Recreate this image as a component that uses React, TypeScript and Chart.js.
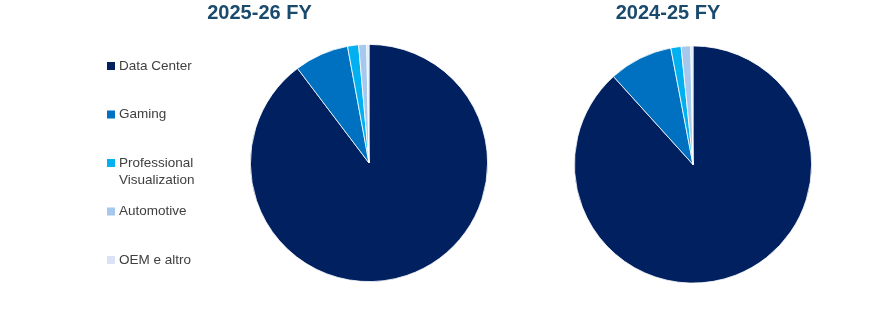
import React, { useEffect, useRef } from "react";
import { Chart, registerables } from "chart.js";

Chart.register(...registerables);

const categories: string[][] = [
  ["Data Center"],
  ["Gaming"],
  ["Professional", "Visualization"],
  ["Automotive"],
  ["OEM e altro"],
];
const fy2026Values = [89.7, 7.4, 1.5, 1.1, 0.3];
const fy2025Values = [88.3, 8.7, 1.4, 1.3, 0.3];
const titles = ["2025-26 FY", "2024-25 FY"];
const colors = ["#002060", "#0070C0", "#00B0F0", "#A6C8EC", "#DAE3F3"];

const TITLE_COLOR = "#1A4A6C";
const TITLE_FONT = "bold 20px 'Liberation Sans', Arial, sans-serif";
const LEGEND_COLOR = "#404040";
const LEGEND_FONT = "13.5px 'Liberation Sans', Arial, sans-serif";

const legendPlugin = {
  id: "sideLegend",
  afterDraw(chart: any) {
    const ctx = chart.ctx;
    const labels = chart.data.labels as string[][];
    const bg = chart.data.datasets[0].backgroundColor as string[];
    const startY = 66;
    const step = 48.5;
    const lineH = 17.5;
    ctx.save();
    ctx.font = LEGEND_FONT;
    ctx.textBaseline = "middle";
    ctx.textAlign = "left";
    labels.forEach((lines, i) => {
      const y = startY + i * step;
      ctx.fillStyle = bg[i];
      ctx.fillRect(107, y - 4, 8, 8);
      ctx.fillStyle = LEGEND_COLOR;
      lines.forEach((t, j) => ctx.fillText(t, 119, y + j * lineH));
    });
    ctx.restore();
  },
};

const titlePlugin = {
  id: "topTitle",
  afterDraw(chart: any, _args: any, opts: any) {
    const ctx = chart.ctx;
    ctx.save();
    ctx.font = TITLE_FONT;
    ctx.fillStyle = TITLE_COLOR;
    ctx.textAlign = "center";
    ctx.textBaseline = "middle";
    ctx.fillText(opts.text, opts.x, opts.y);
    ctx.restore();
  },
};

function makeConfig(values: number[], title: string, titleX: number, padding: any, withLegend: boolean): any {
  return {
    type: "pie",
    data: {
      labels: categories,
      datasets: [
        {
          data: values,
          backgroundColor: colors,
          borderColor: "#ffffff",
          borderWidth: 0.8,
        },
      ],
    },
    options: {
      responsive: false,
      animation: false,
      layout: { padding },
      plugins: {
        legend: { display: false },
        tooltip: { enabled: false },
        title: { display: false },
        topTitle: { text: title, x: titleX, y: 13 },
      },
    },
    plugins: withLegend ? [titlePlugin, legendPlugin] : [titlePlugin],
  };
}

export default function App() {
  const refA = useRef<HTMLCanvasElement>(null);
  const refB = useRef<HTMLCanvasElement>(null);

  useEffect(() => {
    const a = new Chart(
      refA.current!,
      makeConfig(fy2026Values, titles[0], 259.5, { left: 250, right: 32, top: 44, bottom: 31 }, true)
    );
    const b = new Chart(
      refB.current!,
      makeConfig(fy2025Values, titles[1], 148, { left: 54, right: 4, top: 45, bottom: 29 }, false)
    );
    return () => {
      a.destroy();
      b.destroy();
    };
  }, []);

  return (
    <div style={{ position: "absolute", left: 0, top: 0, width: 870, height: 313, background: "#fff" }}>
      <canvas ref={refA} width={520} height={313} style={{ position: "absolute", left: 0, top: 0, width: 520, height: 313 }} />
      <canvas ref={refB} width={296} height={313} style={{ position: "absolute", left: 520, top: 0, width: 296, height: 313 }} />
    </div>
  );
}
